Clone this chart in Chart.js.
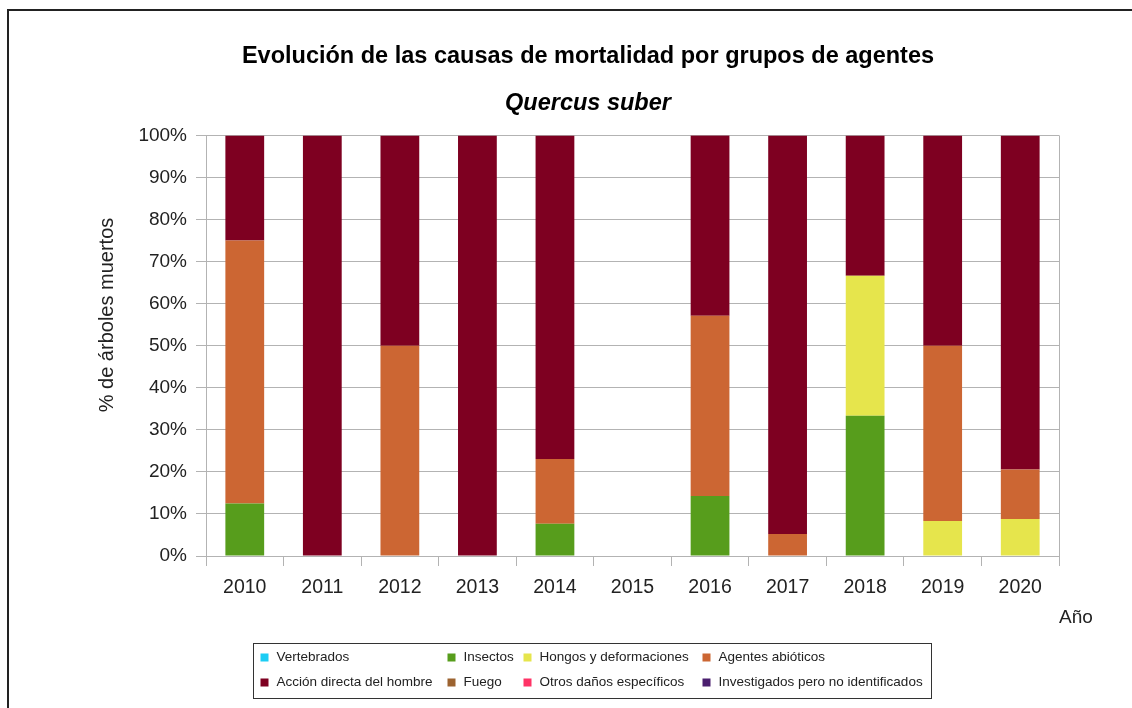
<!DOCTYPE html>
<html>
<head>
<meta charset="utf-8">
<title>Evolución de las causas de mortalidad</title>
<script src="https://cdn.jsdelivr.net/npm/chart.js@4.4.1/dist/chart.umd.min.js"></script>
<style>
  html, body { margin: 0; padding: 0; background: #fff; }
  canvas { display: block; }
</style>
</head>
<body>
<canvas id="grafico" width="1132" height="708"></canvas>
<script>
// años y porcentajes de árboles muertos por grupo de agentes
const anios = ['2010', '2011', '2012', '2013', '2014', '2015', '2016', '2017', '2018', '2019', '2020'];
const vertebrados  = [0, 0, 0, 0, 0, 0, 0, 0, 0, 0, 0];
const insectos     = [12.5, 0, 0, 0, 7.69, 0, 14.29, 0, 33.33, 0, 0];
const hongos       = [0, 0, 0, 0, 0, 0, 0, 0, 33.33, 8.33, 8.82];
const abioticos    = [62.5, 0, 50, 0, 15.38, 0, 42.86, 5.26, 0, 41.67, 11.76];
const accionHombre = [25, 100, 50, 100, 76.92, 0, 42.86, 94.74, 33.33, 50, 79.41];
const fuego        = [0, 0, 0, 0, 0, 0, 0, 0, 0, 0, 0];
const otrosDanos   = [0, 0, 0, 0, 0, 0, 0, 0, 0, 0, 0];
const investigados = [0, 0, 0, 0, 0, 0, 0, 0, 0, 0, 0];
const ticksY = [0, 10, 20, 30, 40, 50, 60, 70, 80, 90, 100];

const FUENTE = '"Liberation Sans", Arial, sans-serif';
Chart.defaults.font.family = FUENTE;
Chart.defaults.color = '#222';

function serie(nombre, datos, color) {
    return {
        label: nombre,
        data: datos,
        backgroundColor: color,
        borderWidth: 0,
        categoryPercentage: 1,
        barPercentage: 0.5
    };
}

// marco, título del eje Y, línea derecha del área, rótulo "Año" y leyenda en rejilla
const extras = {
    id: 'extras',
    afterDraw(chart) {
        const ctx = chart.ctx;
        const area = chart.chartArea;
        ctx.save();

        ctx.strokeStyle = '#222';
        ctx.lineWidth = 2;
        ctx.beginPath();
        ctx.moveTo(8, chart.height);
        ctx.lineTo(8, 10);
        ctx.lineTo(chart.width, 10);
        ctx.stroke();

        ctx.strokeStyle = '#b3b3b3';
        ctx.lineWidth = 1;
        ctx.beginPath();
        ctx.moveTo(Math.round(area.right) + 0.5, area.top);
        ctx.lineTo(Math.round(area.right) + 0.5, area.bottom + 10);
        ctx.stroke();

        ctx.fillStyle = '#222';
        ctx.textBaseline = 'middle';

        ctx.save();
        ctx.translate(107, 315);
        ctx.rotate(-Math.PI / 2);
        ctx.textAlign = 'center';
        ctx.font = '20px ' + FUENTE;
        ctx.fillText('% de árboles muertos', 0, 0);
        ctx.restore();

        ctx.textAlign = 'left';
        ctx.font = '19px ' + FUENTE;
        ctx.fillText('Año', area.right, 618);

        // leyenda: 2 filas x 4 columnas
        const caja = { x: 253.5, y: 643.5, w: 678, h: 55 };
        ctx.strokeStyle = '#333';
        ctx.strokeRect(caja.x, caja.y, caja.w, caja.h);
        const columnas = [7, 194, 270, 449];
        const filas = [14, 39];
        ctx.font = '13.5px ' + FUENTE;
        chart.data.datasets.forEach((ds, i) => {
            const cx = caja.x + columnas[i % 4];
            const cy = caja.y + filas[Math.floor(i / 4)];
            ctx.fillStyle = ds.backgroundColor;
            ctx.fillRect(cx, cy - 4, 8, 8);
            ctx.fillStyle = '#222';
            ctx.fillText(ds.label, cx + 16, cy);
        });
        ctx.restore();
    }
};

new Chart(document.getElementById('grafico'), {
    type: 'bar',
    data: {
        labels: anios,
        datasets: [
            serie('Vertebrados', vertebrados, '#1ccdf4'),
            serie('Insectos', insectos, '#579d1c'),
            serie('Hongos y deformaciones', hongos, '#e6e54c'),
            serie('Agentes abióticos', abioticos, '#cc6633'),
            serie('Acción directa del hombre', accionHombre, '#7e0021'),
            serie('Fuego', fuego, '#9c6330'),
            serie('Otros daños específicos', otrosDanos, '#ff3366'),
            serie('Investigados pero no identificados', investigados, '#4b1f6f')
        ]
    },
    options: {
        responsive: false,
        animation: false,
        layout: { padding: { top: 0, left: 117, right: 73, bottom: 0 } },
        plugins: {
            legend: { display: false },
            tooltip: { enabled: false },
            title: {
                display: true,
                text: 'Evolución de las causas de mortalidad por grupos de agentes',
                color: '#000',
                font: { size: 23.5, weight: 'bold' },
                padding: { top: 42, bottom: 19 }
            },
            subtitle: {
                display: true,
                text: 'Quercus suber',
                color: '#000',
                font: { size: 23.5, weight: 'bold', style: 'italic' },
                padding: { top: 0, bottom: 18 }
            }
        },
        scales: {
            x: {
                stacked: true,
                afterFit(scale) { scale.height = 152; },
                grid: {
                    offset: true,
                    drawOnChartArea: false,
                    drawTicks: true,
                    tickLength: 10,
                    color: '#b3b3b3'
                },
                border: { color: '#b3b3b3' },
                ticks: {
                    font: { size: 19.5 },
                    color: '#222',
                    padding: 10,
                    maxRotation: 0
                }
            },
            y: {
                stacked: true,
                min: 0,
                max: 100,
                afterFit(scale) { scale.width = 89; },
                afterBuildTicks(scale) {
                    scale.ticks = ticksY.map(v => ({ value: v }));
                },
                grid: {
                    color: '#b3b3b3',
                    tickLength: 10
                },
                border: { color: '#b3b3b3' },
                ticks: {
                    font: { size: 19 },
                    color: '#222',
                    padding: 9,
                    callback: v => v + '%'
                }
            }
        }
    },
    plugins: [extras]
});
</script>
</body>
</html>
